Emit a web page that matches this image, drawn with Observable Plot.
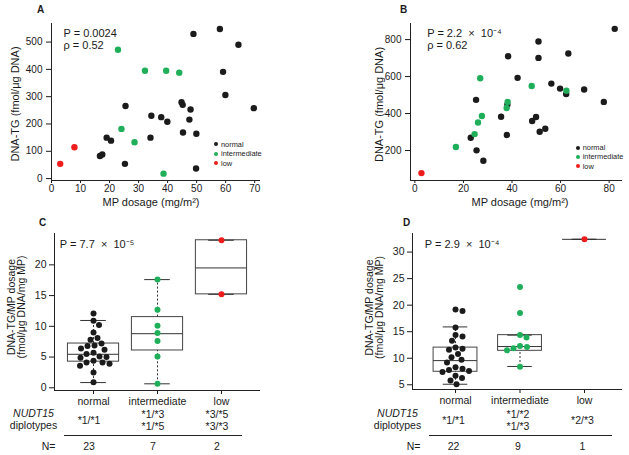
<!DOCTYPE html>
<html>
<head>
<meta charset="utf-8">
<script src="https://cdn.jsdelivr.net/npm/d3@7"></script>
<script src="https://cdn.jsdelivr.net/npm/@observablehq/plot@0.6"></script>
<style>
  body { margin: 0; background: #fff; font-family: "Liberation Sans", Arial, Helvetica, sans-serif; color: #1a1a1a; }
  #fig { position: relative; width: 629px; height: 455px; overflow: hidden; background: #fff; }
  .panel { position: absolute; }
  .panel svg { overflow: visible; }
  .letter { position: absolute; font-weight: bold; font-size: 10px; line-height: 10px; }
  .legend { position: absolute; font-size: 7.4px; }
  .legend .row { display: flex; align-items: center; }
  .legend .dot { width: 4px; height: 4px; border-radius: 50%; margin-right: 3px; }
  .sep { position: absolute; border-top: 1px solid #222; height: 0; }
</style>
</head>
<body>
<div id="fig"></div>
<script>
// ---------------- data ----------------
const groups = ["normal", "intermediate", "low"];
const groupColors = ["#1b1b1b", "#1faf5b", "#ee1d1d"];

// Panel A: MP dosage (mg/m2) vs DNA-TG (fmol/ug DNA)
const aNormalDose = [48.9, 58.0, 64.4, 59.1, 59.9, 69.7, 25.5, 34.4, 37.8, 44.8, 45.2, 47.9, 47.5, 39.9, 45.3, 49.9, 34.1, 19.0, 20.5, 16.7, 17.5, 25.3, 49.8];
const aNormalTG   = [530, 548, 490, 391, 306, 258, 266, 230, 225, 280, 270, 253, 216, 208, 169, 164, 150, 150, 139, 83, 88, 54, 37];
const aInterDose  = [22.9, 32.2, 39.5, 44.0, 24.1, 28.6, 38.6];
const aInterTG    = [472, 395, 395, 388, 182, 133, 18];
const aLowDose    = [3.0, 7.9];
const aLowTG      = [54, 115];
const aXTicks = [0, 10, 20, 30, 40, 50, 60, 70];
const aYTicks = [0, 100, 200, 300, 400, 500];
const aStats = "P = 0.0024\nρ = 0.52";

// Panel B
const bNormalDose = [82.3, 50.9, 63.2, 38.4, 50.9, 42.3, 56.2, 59.8, 69.7, 62.3, 77.8, 25.2, 38.1, 35.5, 49.9, 48.3, 53.7, 51.4, 37.9, 23.0, 25.4, 28.2];
const bNormalTG   = [858, 790, 725, 710, 701, 593, 562, 535, 530, 506, 463, 474, 448, 383, 381, 360, 318, 302, 284, 269, 201, 145];
const bInterDose  = [26.9, 48.1, 62.4, 38.2, 37.8, 27.6, 26.0, 24.6, 16.9];
const bInterTG    = [591, 549, 524, 463, 430, 387, 352, 289, 219];
const bLowDose    = [2.7];
const bLowTG      = [78];
const bXTicks = [0, 20, 40, 60, 80];
const bYTicks = [200, 400, 600, 800];
const bStats = "P = 2.2  ×  10⁻⁴\nρ = 0.62";

// Panel C: DNA-TG / MP dosage by NUDT15 phenotype
const cNormal = [12.1, 10.9, 10.2, 9.0, 8.1, 7.8, 7.2, 6.9, 6.8, 6.4, 6.2, 5.7, 5.5, 5.1, 5.0, 4.9, 4.4, 4.1, 4.1, 3.9, 3.6, 2.5, 0.9];
const cInter  = [17.6, 12.7, 10.1, 8.9, 7.6, 5.1, 0.65];
const cLow    = [24.0, 15.2];
const cQ1        = [4.25, 6.07, 15.2];
const cMedian    = [5.45, 8.8, 19.5];
const cQ3        = [7.2, 11.5, 24.0];
const cWhiskerLo = [0.85, 0.65, 15.2];
const cWhiskerHi = [10.95, 17.6, 24.0];
const cDiplotypes = ["*1/*1", "*1/*3\n*1/*5", "*3/*5\n*3/*3"];
const cCounts = [23, 7, 2];
const cYTicks = [0, 5, 10, 15, 20];
const cStats = "P = 7.7  ×  10⁻⁵";

// Panel D
const dNormal = [19.2, 18.9, 15.8, 14.4, 14.1, 13.3, 12.0, 11.8, 11.6, 10.8, 10.2, 9.7, 9.2, 8.3, 8.0, 7.8, 7.6, 7.4, 6.7, 6.3, 5.8, 5.1];
const dInter  = [23.4, 18.5, 14.4, 13.9, 12.3, 12.1, 11.9, 11.5, 8.4];
const dLow    = [32.4];
const dQ1        = [7.45, 11.4, 32.4];
const dMedian    = [9.55, 12.2, 32.4];
const dQ3        = [12.0, 14.35, 32.4];
const dWhiskerLo = [5.1, 8.45, 32.4];
const dWhiskerHi = [15.9, 14.35, 32.4];
const dDiplotypes = ["*1/*1", "*1/*2\n*1/*3", "*2/*3"];
const dCounts = [22, 9, 1];
const dYTicks = [5, 10, 15, 20, 25, 30];
const dStats = "P = 2.9  ×  10⁻⁴";

const xLabelScatter = "MP dosage (mg/m²)";
const yLabelScatter = "DNA-TG (fmol/μg DNA)";
const yLabelBox = "DNA-TG/MP dosage\n(fmol/μg DNA/mg MP)";

// ---------------- helpers ----------------
const FONT = "Liberation Sans, Arial, Helvetica, sans-serif";
const fig = document.getElementById("fig");

function place(el, left, top) {
  const d = document.createElement("div");
  d.className = "panel";
  d.style.left = left + "px";
  d.style.top = top + "px";
  d.appendChild(el);
  fig.appendChild(d);
  return d;
}

function addText(cls, text, left, top) {
  const d = document.createElement("div");
  d.className = cls;
  d.style.left = left + "px";
  d.style.top = top + "px";
  d.textContent = text;
  fig.appendChild(d);
}

function addLegend(left, top, rowH) {
  const d = document.createElement("div");
  d.className = "legend";
  d.style.left = left + "px";
  d.style.top = top + "px";
  groups.forEach((g, i) => {
    const row = document.createElement("div");
    row.className = "row";
    row.style.height = rowH + "px";
    const dot = document.createElement("span");
    dot.className = "dot";
    dot.style.background = groupColors[i];
    const t = document.createElement("span");
    t.textContent = g;
    row.appendChild(dot); row.appendChild(t);
    d.appendChild(row);
  });
  fig.appendChild(d);
}

function scatterPanel(cfg) {
  const rows = [];
  cfg.series.forEach((s, gi) => s.dose.forEach((d, i) => rows.push({group: groups[gi], dose: d, tg: s.tg[i]})));
  return Plot.plot({
    width: cfg.width, height: cfg.height,
    marginTop: cfg.mt, marginRight: cfg.mr, marginBottom: cfg.mb, marginLeft: cfg.ml,
    style: {fontFamily: FONT, fontSize: "10px", color: "#1a1a1a", background: "white", overflow: "visible"},
    x: {domain: cfg.xDomain, ticks: cfg.xTicks, tickSize: 3, tickPadding: 1, label: null},
    y: {domain: cfg.yDomain, ticks: cfg.yTicks, tickSize: 5, tickPadding: 4, label: null},
    color: {domain: groups, range: groupColors},
    marks: [
      Plot.ruleX([cfg.xDomain[0]], {stroke: "#222"}),
      Plot.ruleY([cfg.yDomain[0]], {stroke: "#222"}),
      Plot.dot(rows, {x: "dose", y: "tg", fill: "group", r: 3.2}),
      Plot.text([cfg.stats], {text: d => d, frameAnchor: "top-left", dx: cfg.statDx, dy: cfg.statDy, textAnchor: "start", lineAnchor: "top", fontSize: 11, lineHeight: 1.12}),
      Plot.text([xLabelScatter], {text: d => d, frameAnchor: "bottom", dx: cfg.xlDx, dy: 22, lineAnchor: "middle", fontSize: 11}),
      Plot.text([yLabelScatter], {text: d => d, frameAnchor: "left", rotate: -90, dx: cfg.ylDx, dy: cfg.ylDy, textAnchor: "middle", lineAnchor: "middle", fontSize: 11})
    ]
  });
}

function swarm(vals, pxPerY, minDist) {
  const placed = [], out = [];
  for (const v of vals) {
    const y = v * pxPerY;
    let best = 0;
    for (let k = 0; k < 400; k++) {
      const off = (k % 2 ? 1 : -1) * Math.ceil(k / 2) * 0.5;
      if (placed.every(p => (p.x - off) ** 2 + (p.y - y) ** 2 >= minDist * minDist)) { best = off; break; }
    }
    placed.push({x: best, y});
    out.push(best);
  }
  return out;
}

function boxPanel(cfg) {
  const pxPerX = (cfg.width - cfg.ml - cfg.mr) / (cfg.xDomain[1] - cfg.xDomain[0]);
  const pxPerY = (cfg.height - cfg.mt - cfg.mb) / (cfg.yDomain[1] - cfg.yDomain[0]);
  const dots = [];
  cfg.points.forEach((vals, gi) => {
    const offs = swarm(vals, pxPerY, cfg.r * 2 + 0.8);
    vals.forEach((v, i) => dots.push({group: groups[gi], gx: gi + offs[i] / pxPerX, v}));
  });
  const boxes = groups.map((g, i) => ({
    i, g, q1: cfg.q1[i], med: cfg.median[i], q3: cfg.q3[i], lo: cfg.wlo[i], hi: cfg.whi[i],
    dip: cfg.diplotypes[i], n: String(cfg.counts[i])
  }));
  const hw = cfg.boxHalf, cw = cfg.capHalf;
  const T = {fontSize: 10.5};
  return Plot.plot({
    width: cfg.width, height: cfg.height,
    marginTop: cfg.mt, marginRight: cfg.mr, marginBottom: cfg.mb, marginLeft: cfg.ml,
    style: {fontFamily: FONT, fontSize: "10.5px", color: "#1a1a1a", background: "white", overflow: "visible"},
    x: {domain: cfg.xDomain, ticks: [0, 1, 2], tickFormat: i => groups[i], tickSize: 4, tickPadding: 3, label: null},
    y: {domain: cfg.yDomain, ticks: cfg.yTicks, tickSize: 5, tickPadding: 3, label: null},
    color: {domain: groups, range: groupColors},
    marks: [
      Plot.ruleX([cfg.xDomain[0]], {stroke: "#222"}),
      Plot.ruleY([cfg.yDomain[0]], {stroke: "#222"}),
      Plot.rect(boxes, {x1: d => d.i - hw, x2: d => d.i + hw, y1: "q1", y2: "q3", fill: "white", stroke: "#444"}),
      Plot.ruleX(boxes, {x: "i", y1: "q3", y2: "hi", stroke: "#333", strokeDasharray: "2,2"}),
      Plot.ruleX(boxes, {x: "i", y1: "lo", y2: "q1", stroke: "#333", strokeDasharray: "2,2"}),
      Plot.ruleY(boxes, {y: "hi", x1: d => d.i - cw, x2: d => d.i + cw, stroke: "#333"}),
      Plot.ruleY(boxes, {y: "lo", x1: d => d.i - cw, x2: d => d.i + cw, stroke: "#333"}),
      Plot.ruleY(boxes, {y: "med", x1: d => d.i - hw, x2: d => d.i + hw, stroke: "#333"}),
      Plot.dot(dots, {x: "gx", y: "v", fill: "group", r: cfg.r}),
      Plot.text([cfg.stats], {text: d => d, frameAnchor: "top-left", dx: cfg.statDx, dy: cfg.statDy, textAnchor: "start", lineAnchor: "top", fontSize: 11}),
      Plot.text([yLabelBox], {text: d => d, frameAnchor: "left", rotate: -90, dx: -38, dy: cfg.ylDy, textAnchor: "middle", lineAnchor: "middle", lineHeight: 1.0, ...T}),
      Plot.text(boxes, {x: "i", text: "dip", frameAnchor: "bottom", dx: cfg.tableDx, dy: cfg.tableDy + 29.5, lineAnchor: "middle", lineHeight: 1.18, ...T}),
      Plot.text(boxes, {x: "i", text: "n", frameAnchor: "bottom", dx: cfg.tableDx, dy: cfg.tableDy + 55.8, lineAnchor: "middle", ...T}),
      Plot.text(["NUDT15"], {text: d => d, frameAnchor: "bottom-left", dx: cfg.nudtDx, dy: cfg.tableDy + 23.3, textAnchor: "middle", lineAnchor: "middle", fontStyle: "italic", ...T}),
      Plot.text(["diplotypes"], {text: d => d, frameAnchor: "bottom-left", dx: cfg.nudtDx, dy: cfg.tableDy + 35.2, textAnchor: "middle", lineAnchor: "middle", ...T}),
      Plot.text(["N="], {text: d => d, frameAnchor: "bottom-left", dx: cfg.nDx, dy: cfg.tableDy + 55.8, textAnchor: "end", lineAnchor: "middle", ...T})
    ]
  });
}

// ---------------- panels ----------------
place(scatterPanel({
  width: 310, height: 215, mt: 23, mr: 50, mb: 35, ml: 51,
  xDomain: [0, 72], yDomain: [-7, 568], xTicks: aXTicks, yTicks: aYTicks,
  series: [{dose: aNormalDose, tg: aNormalTG}, {dose: aInterDose, tg: aInterTG}, {dose: aLowDose, tg: aLowTG}],
  stats: aStats, statDx: 12, statDy: 4.7, xlDx: -5, ylDx: -36, ylDy: 2
}), 0, 0);

place(scatterPanel({
  width: 319, height: 215, mt: 23, mr: 7, mb: 35, ml: 100,
  xDomain: [-1.8, 85.5], yDomain: [38, 887], xTicks: bXTicks, yTicks: bYTicks,
  series: [{dose: bNormalDose, tg: bNormalTG}, {dose: bInterDose, tg: bInterTG}, {dose: bLowDose, tg: bLowTG}],
  stats: bStats, statDx: 16.7, statDy: 4.7, xlDx: 3.5, ylDx: -31, ylDy: 2.5
}), 310, 0);

place(boxPanel({
  width: 310, height: 235, mt: 13, mr: 50, mb: 65, ml: 54,
  xDomain: [-0.61, 2.61], yDomain: [-0.44, 25.1], yTicks: cYTicks,
  points: [cNormal, cInter, cLow],
  q1: cQ1, median: cMedian, q3: cQ3, wlo: cWhiskerLo, whi: cWhiskerHi,
  diplotypes: cDiplotypes, counts: cCounts,
  boxHalf: 0.4, capHalf: 0.2, r: 3,
  stats: cStats, statDx: 5.3, statDy: 7, ylDy: -5,
  tableDx: -4.5, tableDy: 0, nudtDx: -21, nDx: 1
}), 0, 220);

place(boxPanel({
  width: 319, height: 235, mt: 13, mr: 7, mb: 66, ml: 102,
  xDomain: [-0.667, 2.589], yDomain: [4.11, 33.5], yTicks: dYTicks,
  points: [dNormal, dInter, dLow],
  q1: dQ1, median: dMedian, q3: dQ3, wlo: dWhiskerLo, whi: dWhiskerHi,
  diplotypes: dDiplotypes, counts: dCounts,
  boxHalf: 0.34, capHalf: 0.19, r: 3,
  stats: dStats, statDx: 12.3, statDy: 6.3, ylDy: -4,
  tableDx: -2, tableDy: 1, nudtDx: -15, nDx: 8
}), 310, 220);

// separators under the diplotype rows
[[64, 178], [429, 183]].forEach(([l, w]) => {
  const s = document.createElement("div");
  s.className = "sep";
  s.style.left = l + "px"; s.style.top = "435px"; s.style.width = w + "px";
  fig.appendChild(s);
});

// legends and panel letters
addLegend(214, 139.25, 9.5);
addLegend(575.7, 143.1, 9.2);
addText("letter", "A", 37, 5);
addText("letter", "B", 400, 5);
addText("letter", "C", 39, 218);
addText("letter", "D", 403, 218);
</script>
</body>
</html>
